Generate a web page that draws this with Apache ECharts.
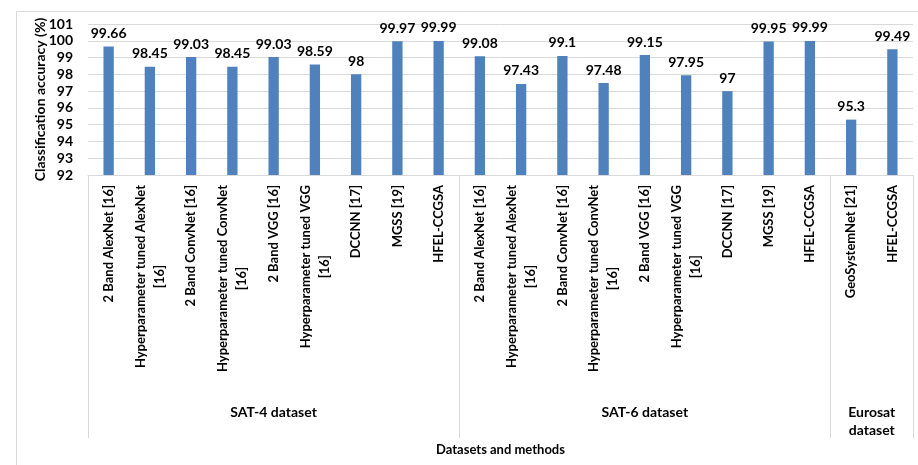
<!DOCTYPE html>
<html>
<head>
<meta charset="utf-8">
<script src="https://cdn.jsdelivr.net/npm/echarts@6/dist/echarts.min.js"></script>
<style>html,body{margin:0;padding:0;background:#fff}#c{width:918px;height:465px}</style>
</head>
<body>
<div id="c"></div>
<script>
const categories = [
  "2 Band AlexNet [16]", "Hyperparameter tuned AlexNet\n[16]", "2 Band ConvNet [16]",
  "Hyperparameter tuned ConvNet\n[16]", "2 Band VGG [16]", "Hyperparameter tuned VGG\n[16]",
  "DCCNN [17]", "MGSS [19]", "HFEL-CCGSA",
  "2 Band AlexNet [16]", "Hyperparameter tuned AlexNet\n[16]", "2 Band ConvNet [16]",
  "Hyperparameter tuned ConvNet\n[16]", "2 Band VGG [16]", "Hyperparameter tuned VGG\n[16]",
  "DCCNN [17]", "MGSS [19]", "HFEL-CCGSA",
  "GeoSystemNet [21]", "HFEL-CCGSA"
];
const accuracy = [
  99.66, 98.45, 99.03, 98.45, 99.03, 98.59, 98, 99.97, 99.99,
  99.08, 97.43, 99.1, 97.48, 99.15, 97.95, 97, 99.95, 99.99,
  95.3, 99.49
];
const groupNames = ["SAT-4 dataset", "SAT-6 dataset", "Eurosat\ndataset"];
const groupStarts = [0, 9, 18];
const groupSizes = [9, 9, 2];
const yTicks = [92, 93, 94, 95, 96, 97, 98, 99, 100, 101];

const FONT = 'Lato';
const chart = echarts.init(document.getElementById('c'), null, {renderer: 'canvas'});

const groupCentres = groupStarts.map((s, i) => s + groupSizes[i] / 2);
const tickBoundaries = groupStarts.slice();

chart.setOption({
  animation: false,
  textStyle: {fontFamily: FONT},
  graphic: [{
    type: 'rect', left: 14, top: 9, shape: {width: 920, height: 470},
    style: {fill: 'none', stroke: '#d9d9d9', lineWidth: 1}, silent: true, z: -1
  }],
  grid: {left: 88, right: 5, top: 24, bottom: 290},
  xAxis: [{
    type: 'category',
    data: categories,
    position: 'bottom',
    axisLine: {show: true, lineStyle: {color: '#d9d9d9', width: 1}},
    axisTick: {
      show: true, inside: false, length: 263,
      interval: function (idx) { return tickBoundaries.indexOf(idx) >= 0; },
      lineStyle: {color: '#d9d9d9', width: 1}
    },
    axisLabel: {
      interval: 0, rotate: 90, margin: 10, color: '#000', fontWeight: 'bold', fontSize: 13,
      fontFamily: FONT, lineHeight: 19,
      formatter: function (v) {
        if (v.indexOf('\n') < 0) return v;
        return v.split('\n').map(l => '{c|' + l + '}').join('\n');
      },
      rich: {c: {fontWeight: 'bold', fontSize: 13, fontFamily: FONT, color: '#000', align: 'center', lineHeight: 19}}
    },
    name: 'Datasets and methods',
    nameLocation: 'middle',
    nameGap: 268,
    nameMoveOverlap: false,
    nameTextStyle: {color: '#000', fontWeight: 'bold', fontSize: 13, fontFamily: FONT}
  }, {
    type: 'value',
    min: 0, max: categories.length, interval: 0.5,
    position: 'bottom',
    offset: 220,
    axisLine: {show: false}, axisTick: {show: false}, splitLine: {show: false},
    axisLabel: {
      show: true, color: '#000', fontWeight: 'bold', fontSize: 14, fontFamily: FONT,
      lineHeight: 18, verticalAlign: 'top', showMinLabel: true, showMaxLabel: true,
      formatter: function (v) {
        const i = groupCentres.indexOf(v);
        return i >= 0 ? groupNames[i] : '';
      }
    }
  }],
  yAxis: {
    type: 'value',
    min: yTicks[0], max: yTicks[yTicks.length - 1], interval: 1,
    axisLine: {show: false}, axisTick: {show: false},
    splitLine: {lineStyle: {color: '#d9d9d9', width: 1}},
    axisLabel: {color: '#000', fontWeight: 'bold', fontSize: 14, fontFamily: FONT, margin: 15},
    name: 'Classification accuracy (%)',
    nameLocation: 'middle',
    nameGap: 41,
    nameMoveOverlap: false,
    nameTextStyle: {color: '#000', fontWeight: 'bold', fontSize: 14, fontFamily: FONT}
  },
  series: [{
    type: 'bar',
    xAxisIndex: 0,
    data: accuracy,
    barWidth: '25%',
    itemStyle: {color: '#4F81BD'},
    label: {
      show: true, position: 'top', distance: 6, color: '#000', fontWeight: 'bold', fontSize: 14, fontFamily: FONT
    }
  }]
});
</script>
</body>
</html>
